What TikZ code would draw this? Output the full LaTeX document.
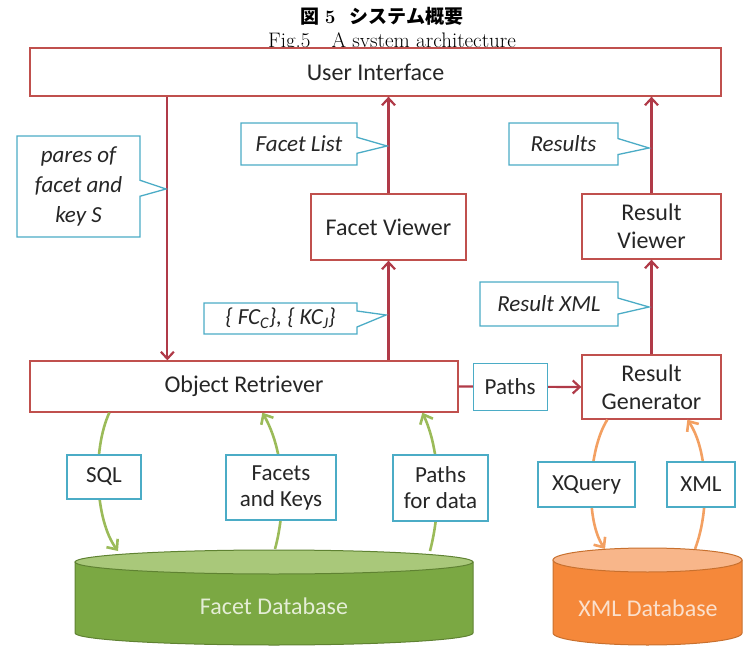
\documentclass[tikz,border=0pt]{standalone}
\usepackage{fontspec}
\newfontfamily\calfont{Carlito}
\newfontfamily\cjkfont{Noto Sans CJK JP}
\usetikzlibrary{
  arrows.meta,
  positioning,
  shapes.callouts,
  calc
}
\definecolor{sysred}{HTML}{C0504D}
\definecolor{sysarrow}{HTML}{B03A48}
\definecolor{systeal}{HTML}{4BACC6}
\definecolor{systext}{HTML}{262626}
\definecolor{sysgreen}{HTML}{9BBB59}
\definecolor{dbgreen}{HTML}{7BA843}
\definecolor{dbgreentop}{HTML}{A9C87A}
\definecolor{dbgreenline}{HTML}{5F8232}
\definecolor{dbgreentext}{HTML}{E4EDD6}
\definecolor{sysorange}{HTML}{F3A062}
\definecolor{dborange}{HTML}{F5883A}
\definecolor{dborangetop}{HTML}{F8B68A}
\definecolor{dborangeline}{HTML}{C8702E}
\definecolor{dborangetext}{HTML}{FBE0CC}

\begin{document}
\begin{tikzpicture}[x=1pt, y=-1pt,
      box/.style={
        rectangle, draw=sysred, line width=1.3pt, fill=white,
        inner sep=0pt, align=center, text=systext,
        font=\calfont\fontsize{24}{28}\selectfont
      },
      tag/.style={
        rectangle, draw=systeal, line width=1.3pt, fill=white,
        inner sep=0pt, align=center, text=systext,
        font=\calfont\fontsize{23}{26}\selectfont
      },
      note/.style={
        rectangle callout, draw=systeal, line width=1.3pt, fill=white,
        inner sep=0pt, align=center, text=systext,
        callout pointer width=16pt,
        font=\calfont\itshape\fontsize{23}{30}\selectfont
      },
      redarrow/.style={-{Straight Barb[length=7pt,width=13pt]}, line width=2.2pt, sysarrow},
      greenarrow/.style={-{Straight Barb[length=8pt,width=14pt]}, line width=2.6pt, sysgreen},
      orangearrow/.style={-{Straight Barb[length=8pt,width=14pt]}, line width=2.6pt, sysorange},
      dbtext/.style={font=\calfont\fontsize{24}{28}\selectfont}
    ]
      \useasboundingbox (0,0) rectangle (747,647);

      % caption
      \node[anchor=base, font=\fontsize{19}{21}\selectfont] (title) at (382,24)
        {{\cjkfont\bfseries 図}\hspace{5pt}\textbf{5}\hspace{14pt}{\cjkfont\bfseries システム概要}};
      \node[anchor=base, font=\fontsize{21}{23}\selectfont] (figcap) at (392,48)
        {Fig.5\quad A system architecture};

      % main boxes
      \node[box, minimum width=691pt, minimum height=48pt] (ui) at (375.5,72) {User Interface};
      \node[box, minimum width=428pt, minimum height=51pt] (retriever) at (244,386.5) {Object Retriever};
      \node[box, minimum width=155pt, minimum height=66pt] (fview) at (388.5,227) {Facet Viewer};
      \node[box, minimum width=139pt, minimum height=65pt] (rview) at (651.5,226.5) {Result\\Viewer};
      \node[box, minimum width=139pt, minimum height=64pt] (rgen) at (651.5,387) {Result\\Generator};

      % databases
      \filldraw[fill=dbgreen, draw=dbgreenline, line width=1pt]
        (75,562) -- (75,633) arc[start angle=180, end angle=360, x radius=199pt, y radius=12pt]
        -- (473,562) -- cycle;
      \filldraw[fill=dbgreentop, draw=dbgreenline, line width=1pt]
        (274,562) ellipse[x radius=199pt, y radius=12pt];
      \node[dbtext, text=dbgreentext] (facetdb) at (274,606) {Facet Database};

      \filldraw[fill=dborange, draw=dborangeline, line width=1pt]
        (553,560) -- (553,633) arc[start angle=180, end angle=360, x radius=94.5pt, y radius=12pt]
        -- (742,560) -- cycle;
      \filldraw[fill=dborangetop, draw=dborangeline, line width=1pt]
        (647.5,560) ellipse[x radius=94.5pt, y radius=12pt];
      \node[dbtext, text=dborangetext] (xmldb) at (648,608) {XML Database};

      \coordinate (sqlin) at (118,551);
      \coordinate (keysout) at (275,549);
      \coordinate (pathsout) at (430,551);
      \coordinate (xqin) at (605,549);
      \coordinate (xmlout) at (695,549);

      % red flow
      \draw[redarrow] ([xshift=138pt]ui.south west) -- ([xshift=138pt]retriever.north west);
      \draw[redarrow] (retriever.north -| fview.south) -- (fview.south);
      \draw[redarrow] (fview.north) -- (fview.north |- ui.south);
      \draw[redarrow] (rgen.north) -- (rview.south);
      \draw[redarrow] (rview.north) -- (rview.north |- ui.south);
      \draw[redarrow] (retriever.east) -- (rgen.west) node[tag, pos=0.42, minimum width=74pt, minimum height=47pt] (paths) {Paths};

      % database flow
      \draw[greenarrow] ([xshift=80pt]retriever.south west) .. controls (92,450) and (95,520) .. (sqlin);
      \draw[greenarrow] (keysout) .. controls (287,505) and (284,450) .. ([xshift=233pt]retriever.south west);
      \draw[greenarrow] (pathsout) .. controls (442,505) and (440,450) .. ([xshift=393pt]retriever.south west);
      \draw[orangearrow] ([xshift=26pt]rgen.south west) .. controls (588,450) and (585,520) .. (xqin);
      \draw[orangearrow] (xmlout) .. controls (710,510) and (708,450) .. ([xshift=106pt]rgen.south west);

      \node[tag, minimum width=74pt, minimum height=44pt] (sql) at (104,477) {SQL};
      \node[tag, minimum width=110pt, minimum height=65pt] (keys) at (281,487.5) {Facets\\and Keys};
      \node[tag, minimum width=95pt, minimum height=66pt] (pathsdata) at (440.5,488) {Paths\\for data};
      \node[tag, minimum width=97pt, minimum height=45pt] (xquery) at (586.5,484.5) {XQuery};
      \node[tag, minimum width=68pt, minimum height=45pt] (xml) at (701,484.5) {XML};

      % callouts
      \node[note, minimum width=123pt, minimum height=101pt, callout absolute pointer={(166,189)}]
        (pairs) at (78.5,186.5) {pares of\\facet and\\key S};
      \node[note, minimum width=116pt, minimum height=42pt, callout absolute pointer={(387,146)}]
        (flist) at (299,144) {Facet List};
      \node[note, minimum width=153pt, minimum height=31pt, callout absolute pointer={(386,315)}]
        (fcset) at (280.5,318.5) {\{ FC\textsubscript{C}\}, \{ KC\textsubscript{J}\}};
      \node[note, minimum width=109pt, minimum height=42pt, callout absolute pointer={(649,148)}]
        (results) at (563.5,144) {Results};
      \node[note, minimum width=138pt, minimum height=44pt, callout absolute pointer={(649,307)}]
        (rxml) at (549,304) {Result XML};
    \end{tikzpicture}
\end{document}
